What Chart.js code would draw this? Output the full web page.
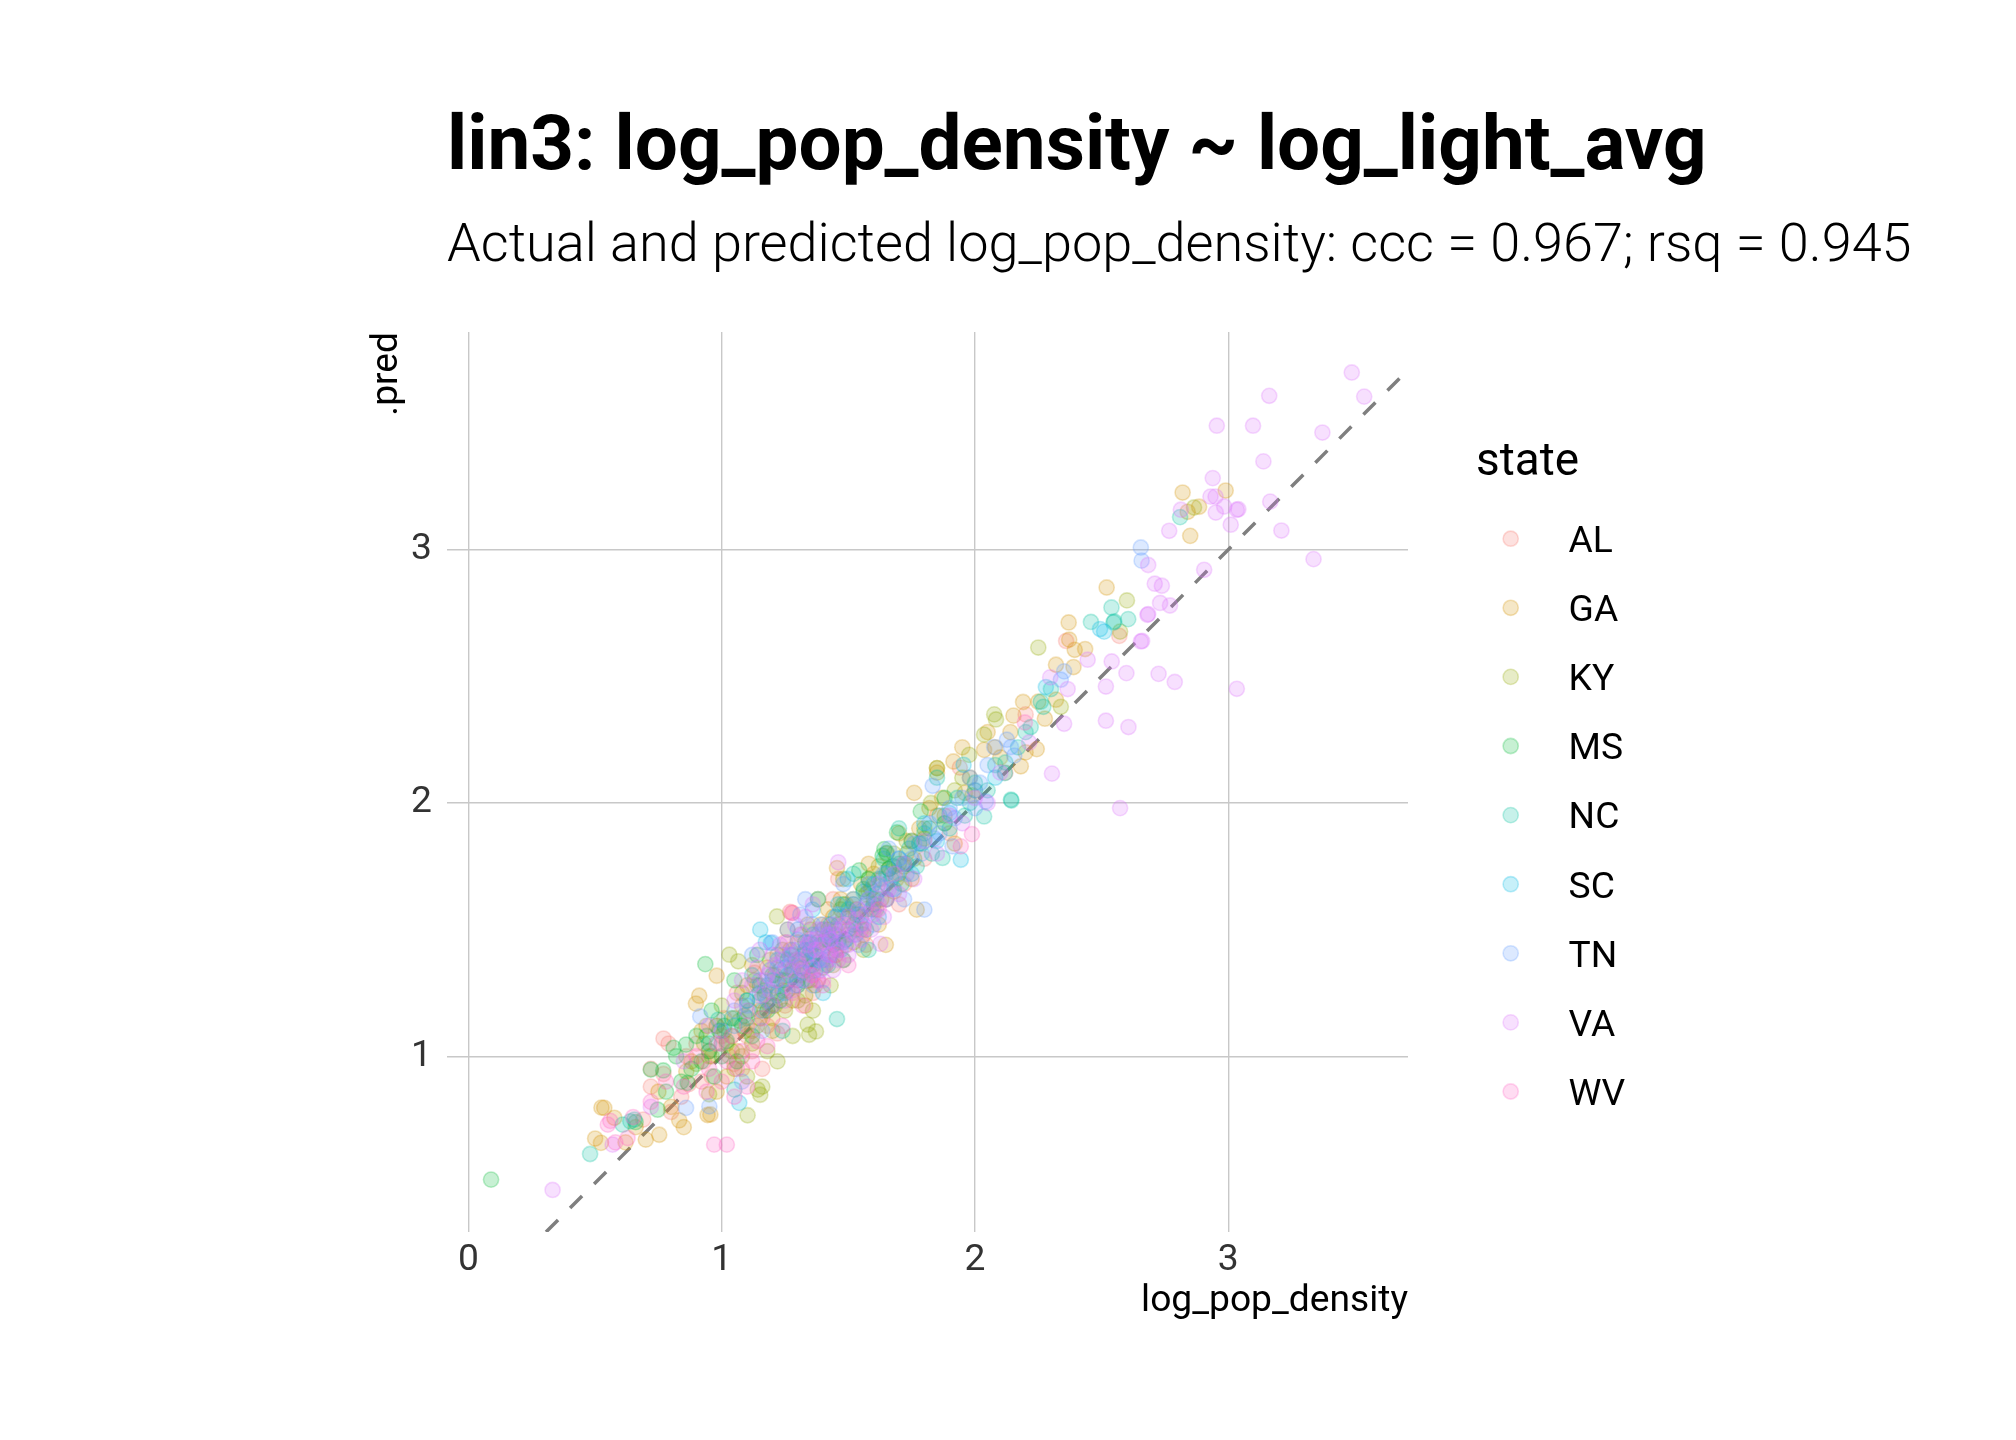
<!DOCTYPE html>
<html><head><meta charset="utf-8">
<script src="https://cdn.jsdelivr.net/npm/chart.js@4.4.1/dist/chart.umd.min.js"></script>
<style>html,body{margin:0;padding:0;background:#fff;} #wrap{width:2016px;height:1440px;position:relative;}</style>
</head><body><div id="wrap"><canvas id="c" width="2016" height="1440"></canvas></div>
<script>
const titleText = 'lin3: log_pop_density ~ log_light_avg';
const subtitleText = 'Actual and predicted log_pop_density: ccc = 0.967; rsq = 0.945';
const xTitle = 'log_pop_density';
const yTitle = '.pred';
const legendTitle = 'state';
const states = ['AL','GA','KY','MS','NC','SC','TN','VA','WV'];
const stateColors = ['#F8766D','#D39200','#93AA00','#00BA38','#00C19F','#00B9E3','#619CFF','#DB72FB','#FF61C3'];
const xTicks = [0,1,2,3];
const yTicks = [1,2,3];
const xLimits = [-0.085,3.71];
const yLimits = [0.306,3.86];

// [log_pop_density, .pred] per state
const AL = [[0.72,0.95],[0.72,0.88],[0.77,1.07],[0.79,1.05],[0.77,0.93],[0.69,0.75],[0.80,0.78],[0.87,0.89],[0.90,1.05],[0.93,0.98],[0.95,1.02],[0.98,1.12],[1.03,1.0],[1.05,0.97],[1.08,0.95],[1.10,1.08],[1.12,1.02],[1.15,1.18],[1.18,1.12],[1.20,1.25],[1.22,1.30],[1.25,1.20],[1.28,1.35],[1.30,1.28],[1.33,1.42],[1.35,1.38],[1.38,1.30],[1.40,1.45],[1.42,1.52],[1.45,1.40],[1.48,1.55],[1.50,1.48],[1.52,1.60],[1.55,1.50],[1.58,1.65],[1.60,1.58],[1.63,1.70],[1.65,1.62],[1.68,1.75],[1.72,1.68],[1.75,1.85],[1.80,1.78],[1.85,1.95],[1.90,1.88],[1.94,2.14],[2.0,2.05],[2.12,2.12],[2.20,2.35],[2.36,2.64],[2.57,2.66],[1.06,1.25],[1.16,0.95],[1.25,1.45],[1.36,1.25],[1.44,1.62],[0.96,0.92],[1.13,1.33],[1.31,1.48],[1.01,1.15],[0.84,0.84],[1.46,1.70],[1.22,1.09],[1.70,1.60],[1.57,1.44],[1.27,1.57],[1.28,1.566],[0.86,1.0],[0.92,0.90],[1.00,1.08],[1.19,1.20],[1.34,1.34]];
const GA = [[0.50,0.675],[0.525,0.797],[0.536,0.796],[0.576,0.757],[0.523,0.658],[0.70,0.671],[0.753,0.69],[0.832,0.747],[0.944,0.768],[0.955,0.77],[0.62,0.66],[0.66,0.72],[0.75,0.86],[0.80,0.80],[0.86,0.94],[0.898,1.208],[0.911,1.239],[0.98,1.318],[0.92,1.10],[0.95,1.0],[1.0,1.05],[1.02,0.92],[1.05,1.15],[1.08,1.20],[1.10,1.28],[1.12,1.10],[1.15,1.22],[1.18,1.35],[1.20,1.15],[1.22,1.40],[1.25,1.30],[1.28,1.22],[1.30,1.45],[1.32,1.35],[1.35,1.50],[1.37,1.28],[1.40,1.42],[1.42,1.58],[1.45,1.48],[1.47,1.62],[1.50,1.55],[1.52,1.45],[1.55,1.68],[1.57,1.58],[1.60,1.72],[1.62,1.52],[1.455,1.743],[1.648,1.44],[1.65,1.80],[1.68,1.65],[1.70,1.88],[1.72,1.75],[1.77,1.579],[1.76,2.04],[1.78,1.90],[1.82,1.98],[1.85,2.12],[1.88,1.95],[1.915,2.164],[1.85,2.138],[1.95,2.22],[1.98,2.10],[2.036,2.21],[2.05,2.28],[2.10,2.18],[2.152,2.345],[2.19,2.399],[2.181,2.145],[2.244,2.213],[2.276,2.333],[2.32,2.408],[2.32,2.546],[2.37,2.713],[2.372,2.645],[2.394,2.605],[2.435,2.608],[2.389,2.537],[2.52,2.851],[2.85,3.055],[2.84,3.15],[2.885,3.17],[2.82,3.226],[2.99,3.234],[1.38,1.62],[1.26,1.50],[1.58,1.76],[1.12,1.36],[1.33,1.20],[1.48,1.38],[0.85,0.72],[0.98,0.86],[1.06,1.02],[1.75,1.70],[1.92,1.84],[2.2,2.2],[0.88,0.98],[0.94,1.12],[1.04,1.08],[1.09,1.10],[1.14,1.28],[1.17,1.18],[1.21,1.32],[1.24,1.26],[1.27,1.42],[1.31,1.38],[1.34,1.30],[1.36,1.44],[1.39,1.52],[1.41,1.36],[1.44,1.55],[1.46,1.46],[1.49,1.60],[1.53,1.58],[1.56,1.48],[1.59,1.66],[1.63,1.62],[1.66,1.74],[1.69,1.70],[1.73,1.80],[1.80,1.86],[1.87,2.02],[1.96,2.04],[2.08,2.22],[2.14,2.28],[2.25,2.40]];
const KY = [[0.90,0.97],[0.93,1.05],[0.98,1.12],[1.03,1.401],[1.065,1.375],[1.0,1.20],[1.02,1.05],[1.05,0.95],[1.08,1.00],[1.10,0.92],[1.12,1.05],[1.142,0.868],[1.152,0.848],[1.102,0.767],[1.15,1.15],[1.18,1.02],[1.20,1.10],[1.218,1.552],[1.22,1.25],[1.25,1.18],[1.27,1.32],[1.30,1.22],[1.32,1.40],[1.339,1.125],[1.372,1.098],[1.345,1.085],[1.35,1.30],[1.38,1.45],[1.40,1.35],[1.42,1.50],[1.45,1.42],[1.47,1.58],[1.50,1.50],[1.52,1.62],[1.55,1.55],[1.58,1.70],[1.60,1.62],[1.62,1.75],[1.65,1.68],[1.68,1.80],[1.70,1.72],[1.73,1.85],[1.76,1.78],[1.80,1.90],[1.826,2.0],[1.85,2.138],[1.88,1.92],[1.92,2.05],[1.977,2.19],[1.99,2.03],[2.036,2.27],[2.076,2.35],[2.083,2.33],[2.25,2.614],[2.339,2.38],[2.60,2.80],[2.573,2.677],[2.865,3.167],[1.13,1.30],[1.24,1.42],[1.36,1.18],[1.43,1.28],[1.28,1.08],[1.08,1.25],[0.95,0.85],[1.19,1.38],[1.48,1.70],[1.56,1.42],[1.34,1.52],[1.16,0.88],[1.22,0.98],[0.96,1.0],[1.01,1.10],[1.04,1.02],[1.07,1.14],[1.11,1.18],[1.14,1.12],[1.17,1.26],[1.21,1.20],[1.23,1.34],[1.26,1.26],[1.29,1.38],[1.31,1.32],[1.33,1.24],[1.37,1.40],[1.41,1.46],[1.44,1.36],[1.46,1.52],[1.49,1.44],[1.53,1.56],[1.57,1.64],[1.61,1.58],[1.66,1.74],[1.72,1.76],[1.78,1.84],[1.95,2.10]];
const MS = [[0.089,0.513],[0.72,0.947],[0.747,0.789],[0.769,0.944],[0.81,1.033],[0.859,1.046],[0.865,0.895],[0.935,1.364],[0.88,0.95],[0.90,1.08],[0.92,0.98],[0.95,1.02],[0.97,0.92],[0.99,1.10],[1.0,1.0],[1.02,1.06],[1.04,1.15],[1.06,0.98],[1.08,1.12],[1.10,1.22],[1.12,1.08],[1.15,1.28],[1.18,1.18],[1.20,1.32],[1.23,1.22],[1.26,1.38],[1.30,1.30],[1.33,1.45],[1.36,1.36],[1.40,1.50],[1.44,1.44],[1.48,1.60],[1.52,1.52],[1.543,1.734],[1.56,1.66],[1.60,1.60],[1.635,1.792],[1.642,1.818],[1.652,1.803],[1.692,1.884],[1.70,1.76],[1.75,1.85],[1.786,1.967],[1.82,1.90],[1.88,2.02],[0.84,0.90],[0.96,1.18],[1.05,1.30],[1.14,1.40],[0.78,0.86],[0.82,1.0],[0.66,0.74],[0.94,1.08],[1.01,1.12],[1.09,1.16],[1.17,1.24],[1.24,1.30],[1.28,1.34],[1.35,1.42],[1.42,1.46],[1.58,1.70],[1.66,1.74]];
const NC = [[0.48,0.614],[0.609,0.73],[0.639,0.743],[0.655,0.75],[0.986,1.144],[1.05,0.868],[0.95,1.05],[1.10,1.15],[1.15,1.25],[1.20,1.20],[1.25,1.35],[1.30,1.28],[1.33,1.40],[1.36,1.48],[1.40,1.38],[1.43,1.52],[1.455,1.147],[1.46,1.45],[1.50,1.58],[1.53,1.50],[1.56,1.65],[1.59,1.58],[1.62,1.70],[1.65,1.62],[1.68,1.75],[1.71,1.68],[1.74,1.82],[1.77,1.75],[1.80,1.88],[1.83,1.80],[1.86,1.95],[1.872,1.783],[1.90,1.90],[1.93,2.02],[1.96,1.95],[2.0,2.08],[2.036,1.947],[2.05,2.05],[2.08,2.15],[2.118,2.118],[2.142,2.013],[2.144,2.01],[2.17,2.22],[2.20,2.28],[2.26,2.40],[2.27,2.38],[2.30,2.45],[2.458,2.715],[2.539,2.772],[2.547,2.713],[2.55,2.717],[2.605,2.726],[2.81,3.129],[1.38,1.62],[1.48,1.38],[1.58,1.42],[1.70,1.90],[1.24,1.10],[1.52,1.72],[1.85,2.10],[1.12,1.32],[1.18,1.28],[1.22,1.24],[1.27,1.40],[1.32,1.30],[1.35,1.36],[1.39,1.44],[1.42,1.36],[1.45,1.50],[1.49,1.46],[1.54,1.56],[1.57,1.50],[1.61,1.64],[1.67,1.70],[1.73,1.76],[1.79,1.84],[1.88,1.92],[1.98,2.0],[2.12,2.16],[2.22,2.30],[1.64,1.78]];
const SC = [[1.152,1.50],[1.174,1.45],[1.194,1.447],[1.359,1.579],[1.069,0.816],[1.20,1.30],[1.25,1.25],[1.28,1.40],[1.32,1.33],[1.35,1.45],[1.38,1.38],[1.42,1.48],[1.45,1.55],[1.48,1.45],[1.497,1.70],[1.52,1.60],[1.55,1.52],[1.60,1.68],[1.65,1.72],[1.70,1.78],[1.75,1.72],[1.80,1.92],[1.85,1.85],[1.944,1.776],[1.955,2.151],[2.0,2.05],[2.08,2.10],[2.28,2.458],[2.494,2.687],[2.51,2.677],[1.10,1.22],[1.30,1.50],[1.40,1.25],[1.62,1.55],[1.05,1.12],[1.16,1.18],[1.22,1.38],[1.26,1.32],[1.33,1.42],[1.37,1.34],[1.43,1.40],[1.46,1.60],[1.58,1.62],[1.68,1.66],[1.90,1.96],[1.78,1.84]];
const TN = [[0.915,1.157],[0.951,0.802],[0.859,0.796],[1.0,1.10],[1.05,1.18],[1.10,1.20],[1.15,1.30],[1.18,1.22],[1.22,1.35],[1.25,1.28],[1.28,1.42],[1.31,1.559],[1.31,1.35],[1.34,1.45],[1.37,1.40],[1.40,1.52],[1.43,1.46],[1.46,1.56],[1.49,1.50],[1.52,1.62],[1.55,1.56],[1.58,1.68],[1.61,1.62],[1.64,1.72],[1.67,1.66],[1.70,1.78],[1.73,1.72],[1.76,1.84],[1.80,1.579],[1.79,1.80],[1.82,1.92],[1.833,2.068],[1.86,1.88],[1.90,1.98],[1.911,1.829],[1.95,2.02],[1.98,2.10],[2.02,2.08],[2.05,2.15],[2.076,2.221],[2.126,2.25],[2.142,2.221],[2.155,2.187],[2.043,2.006],[2.339,2.487],[2.352,2.52],[2.655,3.009],[2.658,2.957],[1.20,1.45],[1.36,1.28],[1.42,1.38],[1.26,1.50],[1.12,1.40],[1.48,1.68],[1.54,1.44],[1.66,1.82],[1.72,1.62],[1.08,0.90],[1.16,1.10],[1.33,1.62],[1.14,1.24],[1.19,1.34],[1.21,1.28],[1.24,1.40],[1.27,1.36],[1.30,1.46],[1.33,1.38],[1.35,1.42],[1.38,1.48],[1.39,1.34],[1.41,1.44],[1.44,1.48],[1.47,1.42],[1.50,1.56],[1.53,1.48],[1.57,1.60],[1.60,1.52],[1.63,1.66],[1.69,1.72],[1.75,1.78],[1.84,1.86],[1.92,1.94],[2.0,1.98],[1.29,1.28],[1.36,1.52]];
const VA = [[0.332,0.472],[0.569,0.651],[0.72,0.80],[0.85,0.98],[0.95,1.12],[1.0,1.05],[1.05,1.22],[1.08,1.30],[1.10,1.18],[1.12,1.28],[1.14,1.35],[1.16,1.24],[1.18,1.32],[1.20,1.40],[1.22,1.30],[1.24,1.38],[1.26,1.45],[1.28,1.34],[1.30,1.42],[1.31,1.36],[1.32,1.48],[1.33,1.30],[1.34,1.40],[1.35,1.46],[1.36,1.35],[1.37,1.42],[1.38,1.50],[1.39,1.38],[1.40,1.45],[1.41,1.36],[1.42,1.48],[1.43,1.40],[1.44,1.52],[1.45,1.44],[1.46,1.38],[1.47,1.50],[1.48,1.46],[1.50,1.55],[1.52,1.48],[1.54,1.58],[1.56,1.52],[1.58,1.62],[1.60,1.56],[1.626,1.444],[1.62,1.68],[1.65,1.62],[1.68,1.72],[1.72,1.76],[1.76,1.70],[1.80,1.85],[1.46,1.766],[1.85,1.80],[1.90,1.95],[1.95,1.92],[2.0,2.02],[2.05,2.0],[2.10,2.12],[2.214,2.239],[2.297,2.496],[2.304,2.116],[2.366,2.45],[2.352,2.313],[2.445,2.566],[2.517,2.46],[2.517,2.325],[2.54,2.559],[2.598,2.513],[2.606,2.30],[2.573,1.98],[2.655,2.638],[2.66,2.64],[2.684,2.746],[2.681,2.743],[2.71,2.866],[2.738,2.858],[2.731,2.79],[2.77,2.78],[2.725,2.51],[2.789,2.478],[3.034,2.451],[2.684,2.94],[2.905,2.921],[3.337,2.963],[2.767,3.075],[2.813,3.158],[2.93,3.21],[2.95,3.21],[2.951,3.147],[2.984,3.171],[3.034,3.158],[3.04,3.16],[3.010,3.099],[3.166,3.19],[3.21,3.076],[2.939,3.283],[3.139,3.349],[2.955,3.49],[3.098,3.49],[3.372,3.463],[3.162,3.608],[3.488,3.70],[3.537,3.605],[1.29,1.52],[1.36,1.60],[1.25,1.22],[1.40,1.30],[1.50,1.40],[1.33,1.55],[1.28,1.26],[1.38,1.30],[1.44,1.34],[1.15,1.42],[1.17,1.30],[1.19,1.26],[1.21,1.36],[1.23,1.44],[1.25,1.34],[1.27,1.40],[1.29,1.30],[1.30,1.38],[1.32,1.34],[1.34,1.44],[1.35,1.32],[1.37,1.46],[1.39,1.42],[1.40,1.50],[1.42,1.40],[1.43,1.46],[1.45,1.50],[1.46,1.42],[1.48,1.52],[1.50,1.44],[1.51,1.50],[1.53,1.54],[1.55,1.46],[1.57,1.56],[1.59,1.50],[1.62,1.60],[1.64,1.55],[1.66,1.66],[1.70,1.64]];
const WV = [[0.55,0.73],[0.56,0.745],[0.628,0.677],[0.97,0.651],[1.02,0.651],[0.58,0.66],[0.65,0.76],[0.72,0.82],[0.78,0.90],[0.85,0.88],[0.90,1.0],[0.95,0.95],[0.98,1.05],[1.0,0.90],[1.02,0.98],[1.04,1.08],[1.06,0.95],[1.08,1.02],[1.10,1.12],[1.12,0.98],[1.14,1.06],[1.16,1.15],[1.18,1.04],[1.20,1.20],[1.24,1.12],[1.276,1.566],[1.28,1.25],[1.32,1.20],[1.36,1.32],[1.40,1.28],[1.45,1.40],[1.50,1.36],[1.56,1.50],[1.62,1.58],[2.197,2.318],[1.988,1.877],[1.944,1.829],[1.10,0.88],[1.05,0.84],[0.94,0.86]];
const stateData = [AL,GA,KY,MS,NC,SC,TN,VA,WV];

function rgba(hex,a){const n=parseInt(hex.slice(1),16);return `rgba(${(n>>16)&255},${(n>>8)&255},${n&255},${a})`;}
const FAM = 'Roboto, "Open Sans", sans-serif';
const mctx = document.createElement('canvas').getContext('2d');
function fitSize(text, weight, target){ mctx.font = `${weight} 100px ${FAM}`; return 100*target/mctx.measureText(text).width; }
const titleSize = fitSize(titleText, 700, 1260);
const subSize = fitSize(subtitleText, 300, 1465);
const axSize = fitSize(xTitle, 400, 267);
const legTitleSize = fitSize(legendTitle, 400, 103);
const POINT_A = 0.22;

const datasets = states.map((s,i)=>({
  type:'scatter', label:s,
  data: stateData[i].map(p=>({x:p[0],y:p[1]})),
  backgroundColor: rgba(stateColors[i],POINT_A),
  borderColor: rgba(stateColors[i],POINT_A+0.04),
  borderWidth:1.6, pointRadius:7.6, order: states.length - i
}));
datasets.push({type:'line', label:'ref', data:[{x:yLimits[0],y:yLimits[0]},{x:xLimits[1],y:xLimits[1]}],
  borderColor:'#7f7f7f', borderWidth:3.5, borderDash:[17,17], pointRadius:0, order:100, fill:false});

const textPlugin = {
  id:'texts',
  afterDraw(chart){
    const ctx = chart.ctx, a = chart.chartArea;
    ctx.save();
    ctx.fillStyle = '#000'; ctx.textBaseline='alphabetic'; ctx.textAlign='left';
    ctx.font = `700 ${titleSize}px ${FAM}`; ctx.fillText(titleText, a.left, 169);
    ctx.font = `300 ${subSize}px ${FAM}`; ctx.fillText(subtitleText, a.left, 261);
    ctx.font = `400 ${axSize}px ${FAM}`; ctx.textAlign='right';
    ctx.fillText(xTitle, a.right, 1311);
    ctx.save(); ctx.translate(397, a.top); ctx.rotate(-Math.PI/2); ctx.textAlign='right'; ctx.fillText(yTitle,0,0); ctx.restore();
    ctx.textAlign='left';
    ctx.font = `400 ${legTitleSize}px ${FAM}`; ctx.fillText(legendTitle, 1476, 475);
    ctx.font = `400 ${axSize}px ${FAM}`;
    chart.data.datasets.forEach((d,i)=>{
      if(d.type!=='scatter') return;
      const y = 538.7 + i*69.1;
      ctx.beginPath(); ctx.arc(1510.7, y, 7.6, 0, Math.PI*2);
      ctx.fillStyle = d.backgroundColor; ctx.fill();
      ctx.lineWidth = d.borderWidth; ctx.strokeStyle = d.borderColor; ctx.stroke();
      ctx.fillStyle = '#000';
      ctx.fillText(d.label, 1568.6, y + axSize*0.36);
    });
    ctx.restore();
  }
};

new Chart(document.getElementById('c'), {
  data:{datasets},
  options:{
    responsive:false, animation:false, devicePixelRatio:1, events:[],
    layout:{padding:{left:0,right:608,top:332,bottom:0}},
    plugins:{legend:{display:false}, title:{display:false}, tooltip:{enabled:false}},
    scales:{
      x:{type:'linear', position:'bottom', min:xLimits[0], max:xLimits[1],
        afterFit(s){s.height=1440-1232;},
        afterBuildTicks(s){s.ticks = xTicks.map(v=>({value:v}));},
        grid:{color:'#c8c8c8', lineWidth:1.4, drawTicks:false},
        border:{display:false},
        ticks:{padding:6, maxRotation:0, color:'#333333', font:{family:FAM, size:axSize}, callback:v=>String(v)}},
      y:{type:'linear', position:'left', min:yLimits[0], max:yLimits[1],
        afterFit(s){s.width=447;},
        afterBuildTicks(s){s.ticks = yTicks.map(v=>({value:v}));},
        grid:{color:'#c8c8c8', lineWidth:1.4, drawTicks:false},
        border:{display:false},
        ticks:{padding:15, color:'#333333', font:{family:FAM, size:axSize}, callback:v=>String(v)}}
    }
  },
  plugins:[textPlugin]
});
</script></body></html>
